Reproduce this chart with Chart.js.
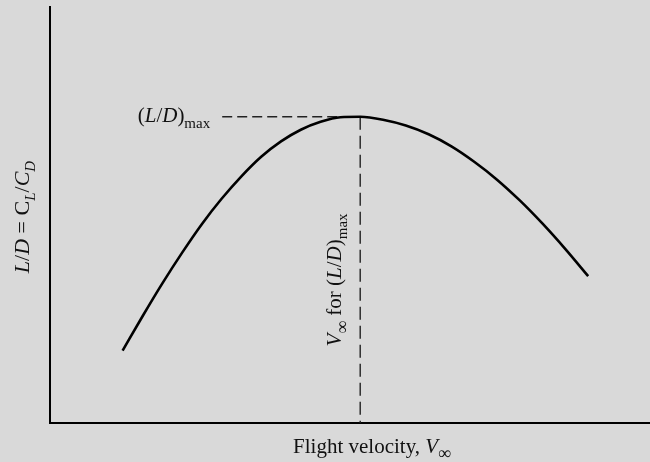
<!DOCTYPE html>
<html>
<head>
<meta charset="utf-8">
<script src="https://cdn.jsdelivr.net/npm/chart.js@4/dist/chart.umd.min.js"></script>
<style>
  html, body { margin: 0; padding: 0; background: #d9d9d9; }
  #c { display: block; }
</style>
</head>
<body>
<canvas id="c" width="650" height="462"></canvas>
<script>
// Curve: L/D versus flight velocity (arbitrary units)
const velocity   = [12.1, 15.4, 18.7, 22.0, 25.3, 28.6, 31.9, 35.2, 38.5, 41.8, 45.1, 48.4, 51.7,
                    55.5, 59.3, 63.1, 66.9, 70.7, 74.5, 78.3, 82.1, 85.9, 89.7];
const liftToDrag = [17.4, 25.6, 33.5, 40.9, 47.8, 53.9, 59.3, 64.0, 67.7, 70.5, 72.4, 73.5, 73.6,
                    72.9, 71.5, 69.4, 66.5, 62.8, 58.5, 53.5, 47.9, 41.8, 35.3];
// Maximum point and guide-line extents
const peakVelocity = 51.7;
const peakLD = 73.6;
const guideStartVelocity = 28.7;
const axisMin = 0, axisMax = 100;

const curvePoints = velocity.map((v, i) => ({ x: v, y: liftToDrag[i] }));
const hGuide = [{ x: guideStartVelocity, y: peakLD }, { x: peakVelocity, y: peakLD }];
const vGuide = [{ x: peakVelocity, y: peakLD }, { x: peakVelocity, y: axisMin }];

const SERIF = '"Liberation Serif", "DejaVu Serif", serif';

function segFont(s, size) {
  const sz = s.sub ? Math.round(size * (s.scale || 0.7)) : size;
  return (s.italic ? 'italic ' : '') + sz + 'px ' + SERIF;
}
function richWidth(ctx, segs, size) {
  let w = 0;
  for (const s of segs) { ctx.font = segFont(s, size); w += ctx.measureText(s.t).width; }
  return w;
}
function drawRich(ctx, segs, x, y, size) {
  let cx = x;
  for (const s of segs) {
    ctx.font = segFont(s, size);
    const dy = s.sub ? size * (s.drop || 0.28) : 0;
    ctx.fillText(s.t, cx, y + dy);
    cx += ctx.measureText(s.t).width;
  }
}

const yTitle = [
  { t: 'L', italic: true }, { t: '/' }, { t: 'D', italic: true }, { t: ' = C' },
  { t: 'L', italic: true, sub: true }, { t: '/' }, { t: 'C', italic: true }, { t: 'D', italic: true, sub: true }
];
const xTitle = [ { t: 'Flight velocity, ' }, { t: 'V', italic: true }, { t: '∞', sub: true, scale: 0.85, drop: 0.3 } ];
const maxLabel = [ { t: '(' }, { t: 'L', italic: true }, { t: '/' }, { t: 'D', italic: true }, { t: ')' }, { t: 'max', sub: true } ];
const vLabel = [ { t: 'V', italic: true }, { t: '∞', sub: true, scale: 0.85, drop: 0.3 }, { t: ' for (' }, { t: 'L', italic: true }, { t: '/' },
                 { t: 'D', italic: true }, { t: ')' }, { t: 'max', sub: true } ];

const textPlugin = {
  id: 'richText',
  afterDraw(chart) {
    const ctx = chart.ctx;
    const xs = chart.scales.x, ys = chart.scales.y;
    const size = 21;
    ctx.save();
    ctx.fillStyle = '#111';
    ctx.textBaseline = 'alphabetic';
    ctx.textAlign = 'left';

    // x-axis title
    let w = richWidth(ctx, xTitle, size);
    drawRich(ctx, xTitle, 372 - w / 2, 453, size);

    // y-axis title (rotated)
    w = richWidth(ctx, yTitle, 22);
    ctx.save();
    ctx.translate(29, 217);
    ctx.rotate(-Math.PI / 2);
    drawRich(ctx, yTitle, -w / 2, 0, 22);
    ctx.restore();

    // (L/D)max label at the left end of the horizontal guide
    w = richWidth(ctx, maxLabel, size);
    const gx = xs.getPixelForValue(guideStartVelocity);
    const gy = ys.getPixelForValue(peakLD);
    drawRich(ctx, maxLabel, gx - 12 - w, gy + 5, size);

    // vertical label beside the vertical guide
    w = richWidth(ctx, vLabel, size);
    const vx = xs.getPixelForValue(peakVelocity);
    ctx.save();
    ctx.translate(vx - 19, 280);
    ctx.rotate(-Math.PI / 2);
    drawRich(ctx, vLabel, -w / 2, 0, size);
    ctx.restore();

    ctx.restore();
  }
};

new Chart(document.getElementById('c'), {
  type: 'scatter',
  data: {
    datasets: [
      {
        data: curvePoints, showLine: true, borderColor: '#000', borderWidth: 2.6,
        pointRadius: 0, cubicInterpolationMode: 'monotone', fill: false
      },
      {
        data: hGuide, showLine: true, borderColor: '#222', borderWidth: 1.4,
        borderDash: [10, 5], pointRadius: 0
      },
      {
        data: vGuide, showLine: true, borderColor: '#222', borderWidth: 1.4,
        borderDash: [13, 6], pointRadius: 0
      }
    ]
  },
  options: {
    responsive: false,
    animation: false,
    layout: { padding: { left: 50, top: 7, right: 0, bottom: 39 } },
    plugins: { legend: { display: false }, tooltip: { enabled: false } },
    scales: {
      x: {
        type: 'linear', min: axisMin, max: axisMax,
        grid: { display: false, drawTicks: false },
        border: { display: true, color: '#000', width: 2 },
        ticks: { display: false }
      },
      y: {
        type: 'linear', min: axisMin, max: axisMax,
        grid: { display: false, drawTicks: false },
        border: { display: true, color: '#000', width: 2 },
        ticks: { display: false }
      }
    }
  },
  plugins: [textPlugin]
});
</script>
</body>
</html>
